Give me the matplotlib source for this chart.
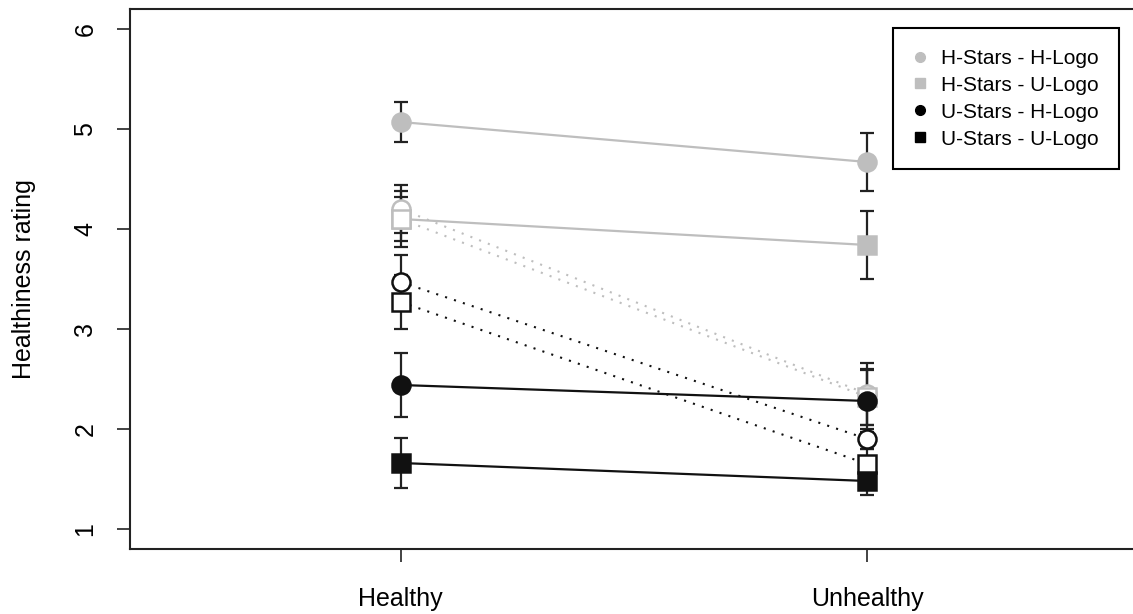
import matplotlib.pyplot as plt
from matplotlib.lines import Line2D

plt.rcParams['font.family'] = ['Liberation Sans', 'DejaVu Sans']

conditions = ["Healthy", "Unhealthy"]
x = [1, 2]

# series in legend (solid lines, filled markers)
hs_hl = [5.07, 4.67]
hs_hl_err = [0.20, 0.29]
hs_ul = [4.10, 3.84]
hs_ul_err = [0.28, 0.34]
us_hl = [2.44, 2.28]
us_hl_err = [0.32, 0.31]
us_ul = [1.66, 1.48]
us_ul_err = [0.25, 0.14]

# series not in legend (dotted lines, open markers)
hs_hl_d = [4.20, 2.35]
hs_hl_d_err = [0.24, 0.31]
hs_ul_d = [4.10, 2.32]
hs_ul_d_err = [0.22, 0.28]
us_hl_d = [3.47, 1.90]
us_hl_d_err = [0.27, 0.10]
us_ul_d = [3.27, 1.65]
us_ul_d_err = [0.27, 0.15]

legend_labels = ["H-Stars - H-Logo", "H-Stars - U-Logo", "U-Stars - H-Logo", "U-Stars - U-Logo"]

grey = '#BEBEBE'
dark = '#111111'

fig = plt.figure(figsize=(11.33, 6.14), dpi=100)
ax = fig.add_axes([130/1133, 65/614, 1008/1133, 540/614])

# drawing order: grey filled, grey open, black open, black filled
series = [
    (hs_hl, hs_hl_err, grey, 'o', grey, '-'),
    (hs_ul, hs_ul_err, grey, 's', grey, '-'),
    (hs_hl_d, hs_hl_d_err, grey, 'o', 'white', ':'),
    (hs_ul_d, hs_ul_d_err, grey, 's', 'white', ':'),
    (us_hl_d, us_hl_d_err, dark, 'o', 'white', ':'),
    (us_ul_d, us_ul_d_err, dark, 's', 'white', ':'),
    (us_hl, us_hl_err, dark, 'o', dark, '-'),
    (us_ul, us_ul_err, dark, 's', dark, '-'),
]

for i, (y, err, col, mk, fc, ls) in enumerate(series):
    ax.errorbar(x, y, yerr=err, fmt='none', ecolor='#222222', elinewidth=1.6,
                capsize=5, capthick=1.6, zorder=2)
    if ls == ':':
        ax.plot(x, y, color=col, lw=1.5, dashes=(1, 3.5), zorder=3 + i)
    else:
        ax.plot(x, y, color=col, lw=1.6, zorder=3 + i)
    ms = 13 if mk == 'o' else 12.5
    ax.plot(x, y, ls='none', marker=mk, ms=ms, mfc=fc, mec=col, mew=1.8, zorder=3 + i)

ax.set_xlim(0.42, 2.58)
ax.set_ylim(0.8, 6.2)
ax.set_xticks(x, conditions)
ax.set_yticks([1, 2, 3, 4, 5, 6])
ax.tick_params(axis='both', direction='out', length=9.5, width=1.2, colors='#222222',
               labelsize=18, labelcolor='black')
ax.tick_params(axis='x', pad=18)
ax.tick_params(axis='y', pad=14)
for lab in ax.get_yticklabels():
    lab.set_rotation(90)
    lab.set_va('center')
for sp in ax.spines.values():
    sp.set_linewidth(1.5)
    sp.set_color('#222222')
ax.set_ylabel("Healthiness rating", fontsize=18)
ax.yaxis.set_label_coords((36 - 130) / 1008, 0.5)

handles = [
    Line2D([], [], ls='none', marker='o', ms=7, color=grey),
    Line2D([], [], ls='none', marker='s', ms=7, color=grey),
    Line2D([], [], ls='none', marker='o', ms=7, color='black'),
    Line2D([], [], ls='none', marker='s', ms=7, color='black'),
]
leg = ax.legend(handles, legend_labels, loc='upper left',
                bbox_to_anchor=(893/1133, 1 - 28/614), bbox_transform=fig.transFigure,
                borderaxespad=0, fontsize=15, handlelength=0.6, handletextpad=0.7,
                borderpad=1.0, labelspacing=0.38, fancybox=False, framealpha=1)
leg.get_frame().set_edgecolor('black')
leg.get_frame().set_linewidth(1.5)

fig.savefig('out.png', dpi=100)
